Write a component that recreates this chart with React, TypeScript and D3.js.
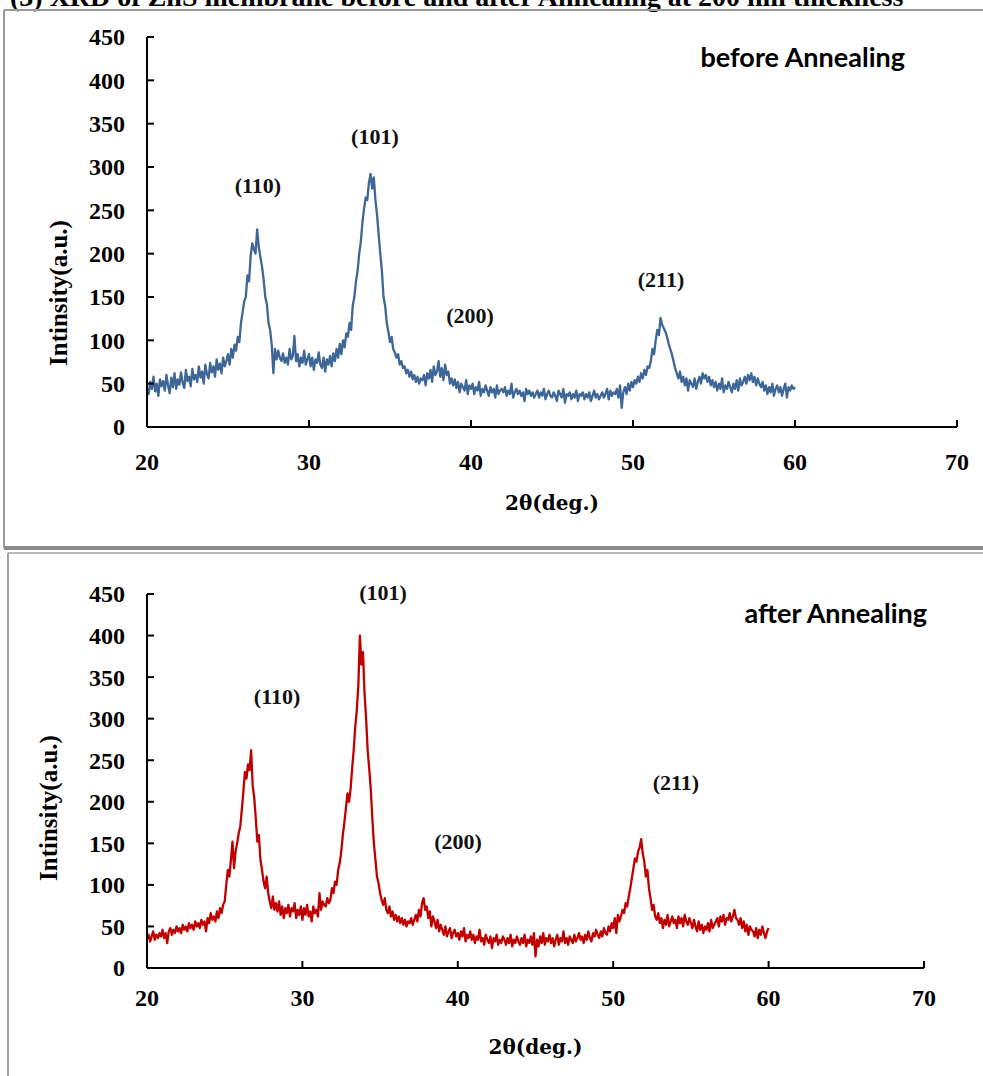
import React from "react";
import * as d3 from "d3";

// 2θ grid: 20.0 .. 60.0 deg, 0.1 deg step (401 points)
const angleStart = 20;
const angleStep = 0.1;

// intensity before annealing, one row per degree
const beforeIntensity = [
  45, 38, 52, 44, 58, 41, 50, 36, 55, 47,
  53, 42, 60, 48, 39, 57, 46, 62, 44, 55,
  49, 63, 51, 45, 66, 53, 58, 47, 67, 55,
  60, 52, 70, 57, 64, 50, 72, 61, 56, 74,
  63, 70, 58, 78, 66, 73, 62, 80, 70, 76,
  84, 72, 90, 80, 95, 88, 104, 98, 120, 132,
  145, 150, 175, 168, 198, 212, 205, 200, 228, 208,
  196, 185, 170, 150, 142, 120, 112, 95, 62, 90,
  78, 88, 80, 76, 85, 74, 80, 72, 90, 78,
  82, 105, 76, 84, 70, 80, 74, 88, 72, 78,
  84, 70, 80, 66, 78, 74, 86, 72, 68, 80,
  64, 78, 72, 82, 70, 85, 76, 90, 80, 96,
  84, 100, 92, 108, 104, 120, 112, 140, 150, 168,
  180, 200, 214, 236, 252, 265, 262, 282, 292, 275,
  288, 262, 245, 222, 200, 180, 150, 140, 120, 110,
  98, 104, 90, 86, 80, 84, 72, 76, 68, 70,
  62, 66, 58, 64, 55, 60, 52, 58, 50, 56,
  54, 60, 48, 62, 56, 66, 52, 70, 60, 64,
  76, 58, 68, 54, 72, 60, 64, 50, 56, 48,
  55, 45, 52, 40, 50, 46, 42, 54, 38, 48,
  44, 50, 38, 46, 42, 52, 36, 44, 40, 48,
  42, 36, 46, 40, 44, 34, 48, 38, 42, 44,
  40, 46, 36, 42, 38, 50, 34, 40, 44, 38,
  42, 36, 40, 30, 44, 38, 42, 36, 40, 34,
  38, 42, 34, 40, 36, 44, 32, 38, 42, 36,
  34, 40, 36, 30, 42, 38, 34, 44, 28, 38,
  36, 40, 32, 38, 34, 42, 30, 38, 36, 40,
  32, 38, 34, 40, 30, 36, 42, 34, 38, 32,
  36, 40, 34, 38, 44, 32, 42, 36, 40, 38,
  44, 34, 48, 22, 40, 46, 38, 50, 42, 52,
  46, 54, 50, 58, 52, 62, 56, 66, 60, 70,
  68, 76, 90, 84, 100, 112, 106, 126, 118, 114,
  110, 104, 96, 90, 84, 76, 68, 62, 56, 64,
  52, 58, 48, 56, 42, 54, 50, 46, 56, 44,
  52, 58, 50, 62, 56, 60, 52, 58, 48, 54,
  46, 52, 42, 50, 44, 56, 40, 48, 44, 52,
  46, 40, 50, 44, 54, 42, 56, 48, 52, 58,
  50, 60, 54, 62, 52, 58, 48, 56, 50, 46,
  52, 42, 48, 38, 46, 40, 50, 36, 44, 48,
  40, 46, 36, 44, 50, 34, 46, 42, 48, 44,
  46,
];

// intensity after annealing
const afterIntensity = [
  35, 40, 32, 38, 44, 34, 40, 36, 42, 38,
  46, 36, 42, 30, 44, 48, 40, 46, 42, 50,
  44, 48, 42, 52, 46, 50, 44, 54, 48, 52,
  46, 56, 50, 54, 48, 58, 52, 56, 44, 60,
  54, 66, 58, 62, 56, 68, 60, 72, 66, 76,
  80, 100, 118, 110, 130, 152, 120, 140, 150, 162,
  170, 190, 212, 236, 228, 245, 238, 262, 220, 205,
  180, 152, 160, 130, 118, 104, 96, 110, 90, 80,
  72, 86, 70, 78, 68, 80, 64, 74, 60, 72,
  66, 76, 62, 72, 68, 78, 60, 70, 64, 74,
  58, 72, 64, 76, 62, 68, 56, 74, 66, 70,
  62, 90, 70, 80, 76, 74, 84, 78, 82, 96,
  90, 104, 100, 118, 126, 140, 160, 175, 192, 210,
  200, 215, 240, 262, 290, 310, 340, 400, 365, 380,
  330, 300, 262, 240, 215, 180, 150, 130, 110, 102,
  90, 82, 76, 84, 70, 66, 74, 62, 68, 58,
  64, 56, 62, 54, 60, 52, 58, 50, 56, 54,
  60, 52, 58, 64, 56, 70, 62, 78, 84, 70,
  74, 60, 68, 50, 62, 56, 48, 58, 44, 52,
  46, 40, 50, 38, 44, 48, 36, 42, 46, 38,
  42, 34, 44, 38, 48, 32, 40, 36, 44, 34,
  40, 30, 38, 34, 46, 32, 36, 28, 40, 34,
  30, 38, 24, 36, 32, 40, 28, 34, 30, 38,
  34, 28, 36, 30, 40, 26, 34, 30, 38, 32,
  28, 36, 30, 40, 26, 34, 30, 38, 28, 42,
  14, 34, 26, 38, 30, 42, 28, 36, 32, 40,
  30, 36, 26, 34, 40, 28, 36, 32, 44, 30,
  36, 28, 38, 34, 30, 40, 32, 36, 42, 34,
  38, 30, 40, 34, 44, 36, 32, 42, 38, 46,
  40, 36, 44, 38, 48, 42, 40, 50, 44, 54,
  48, 60, 42, 64, 56, 62, 70, 66, 78, 74,
  86, 96, 108, 120, 132, 128, 140, 145, 155, 138,
  128, 110, 118, 96, 84, 70, 76, 62, 58, 66,
  54, 60, 48, 58, 52, 64, 50, 56, 62, 54,
  58, 48, 62, 54, 60, 50, 64, 56, 52, 60,
  54, 48, 58, 50, 44, 56, 46, 52, 42, 50,
  46, 54, 44, 58, 48, 52, 56, 60, 50, 62,
  56, 64, 52, 60, 58, 66, 56, 62, 70, 60,
  58, 52, 60, 48, 56, 44, 52, 40, 50, 46,
  44, 38, 48, 36, 46, 40, 50, 42, 36, 44,
  48,
];

const xTicks = [20, 30, 40, 50, 60, 70];
const yTicks = [0, 50, 100, 150, 200, 250, 300, 350, 400, 450];

const peakNames = ["(110)", "(101)", "(200)", "(211)"];
// label anchor points in data units [2θ, intensity]
const beforeLabelAt: [number, number][] = [[26.85, 279], [34.07, 336], [39.94, 129], [51.73, 171]];
const afterLabelAt: [number, number][] = [[28.37, 327], [35.19, 452], [40.01, 152], [54.04, 223]];

const serifBold = "'Liberation Serif', 'Times New Roman', serif";

interface PanelProps {
  values: number[];
  color: string;
  left: number;
  right: number;
  top: number;
  bottom: number;
  tickLabelDy: number;
  xTitleY: number;
  yTitleX: number;
  yTitleY: number;
  tag: string;
  tagX: number;
  tagY: number;
  labelAt: [number, number][];
}

const Panel: React.FC<PanelProps> = (p) => {
  const x = d3.scaleLinear().domain([20, 70]).range([p.left, p.right]);
  const y = d3.scaleLinear().domain([0, 450]).range([p.bottom, p.top]);
  const line = d3
    .line<number>()
    .x((_, i) => x(angleStart + i * angleStep))
    .y((d) => y(d));

  return (
    <g>
      <path d={line(p.values) || ""} fill="none" stroke={p.color} strokeWidth={2.3} strokeLinejoin="round" />

      {/* axes */}
      <line x1={p.left} x2={p.left} y1={p.top} y2={p.bottom} stroke="#000" strokeWidth={2} />
      <line x1={p.left} x2={p.right} y1={p.bottom} y2={p.bottom} stroke="#000" strokeWidth={2} />
      {yTicks.map((t) => (
        <g key={"y" + t}>
          <line x1={p.left} x2={p.left + 7} y1={y(t)} y2={y(t)} stroke="#000" strokeWidth={2} />
          <text x={p.left - 22} y={y(t)} dy="0.35em" textAnchor="end" fontFamily={serifBold} fontWeight="bold" fontSize={24}>
            {t}
          </text>
        </g>
      ))}
      {xTicks.map((t) => (
        <g key={"x" + t}>
          <line x1={x(t)} x2={x(t)} y1={p.bottom} y2={p.bottom - 7} stroke="#000" strokeWidth={2} />
          <text x={x(t)} y={p.bottom + p.tickLabelDy} dy="0.35em" textAnchor="middle" fontFamily={serifBold} fontWeight="bold" fontSize={24}>
            {t}
          </text>
        </g>
      ))}

      <text
        x={(p.left + p.right) / 2}
        y={p.xTitleY}
        dy="0.35em"
        textAnchor="middle"
        fontFamily="'DejaVu Serif', serif"
        fontWeight="bold"
        fontSize={20}
      >
        2θ(deg.)
      </text>
      <text
        transform={`translate(${p.yTitleX},${p.yTitleY}) rotate(-90)`}
        dy="0.35em"
        textAnchor="middle"
        fontFamily={serifBold}
        fontWeight="bold"
        fontSize={25}
      >
        Intinsity(a.u.)
      </text>

      {p.labelAt.map(([a, v], i) => (
        <text key={peakNames[i]} x={x(a)} y={y(v)} dy="0.35em" textAnchor="middle" fontFamily={serifBold} fontWeight="bold" fontSize={22} fill="#111">
          {peakNames[i]}
        </text>
      ))}

      <text x={p.tagX} y={p.tagY} textAnchor="end" fontFamily="Lato, 'Open Sans', sans-serif" fontWeight="bold" fontSize={27}>
        {p.tag}
      </text>
    </g>
  );
};

export default function App() {
  return (
    <svg
      width={983}
      height={1076}
      style={{ position: "absolute", left: 0, top: 0, display: "block", background: "#fff" }}
    >
      {/* caption of the figure, cut by the top edge as in the source image */}
      <text x={10} y={6} fontFamily={serifBold} fontWeight="bold" fontSize={28}>
        (3) XRD of ZnS membrane before and after Annealing at 200 nm thickness
      </text>

      {/* frames */}
      <line x1={4} x2={983} y1={10} y2={10} stroke="#9a9a9a" strokeWidth={2} />
      <line x1={4} x2={4} y1={10} y2={548} stroke="#9a9a9a" strokeWidth={2} />
      <line x1={4} x2={983} y1={548} y2={548} stroke="#8c8c8c" strokeWidth={4} />
      <line x1={8} x2={983} y1={553} y2={553} stroke="#a0a0a0" strokeWidth={1.5} />
      <line x1={8} x2={8} y1={553} y2={1076} stroke="#a0a0a0" strokeWidth={2} />

      <Panel
        values={beforeIntensity}
        color="#3e6697"
        left={147}
        right={957}
        top={37}
        bottom={427}
        tickLabelDy={35}
        xTitleY={503}
        yTitleX={58}
        yTitleY={293}
        tag="before Annealing"
        tagX={905}
        tagY={67}
        labelAt={beforeLabelAt}
      />
      <Panel
        values={afterIntensity}
        color="#c00000"
        left={147}
        right={924}
        top={594}
        bottom={968}
        tickLabelDy={30}
        xTitleY={1047}
        yTitleX={48}
        yTitleY={808}
        tag="after Annealing"
        tagX={927}
        tagY={623}
        labelAt={afterLabelAt}
      />
    </svg>
  );
}
